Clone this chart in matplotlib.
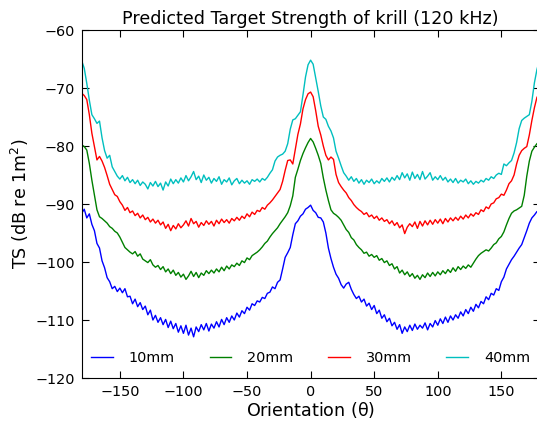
import numpy as np
import matplotlib
matplotlib.use('Agg')
import matplotlib.pyplot as plt

# orientation grid (deg), 2 deg steps from -180 to 180
theta = np.arange(-180, 181, 2)

ts_40mm = [
    -65.3, -66.6, -69.2, -72.1, -74.6, -75.3, -76.1, -75.7, -78.6, -80.8,
    -82.1, -81.6, -83.6, -84.4, -85.2, -85.7, -85.1, -86.0, -85.4, -86.3,
    -85.8, -86.5, -85.9, -86.8, -86.2, -86.6, -87.4, -86.3, -86.9, -86.1,
    -87.0, -86.4, -87.6, -86.2, -86.9, -85.7, -86.5, -85.8, -86.4, -85.5,
    -86.2, -85.1, -86.0, -85.3, -84.4, -85.8, -85.2, -86.3, -85.0, -85.9,
    -85.4, -86.4, -85.6, -86.1, -85.3, -86.6, -85.8, -86.2, -85.5, -86.7,
    -86.0, -85.6, -86.5, -85.9, -86.4, -86.0, -86.6, -85.8, -86.1, -85.7,
    -86.2, -85.6, -85.9, -85.4, -84.7, -84.1, -82.6, -81.9, -81.6, -81.4,
    -80.9, -79.6, -77.1, -75.5, -75.3, -74.7, -74.1, -71.2, -68.1, -66.0,
    -65.2, -65.9, -68.2, -70.6, -73.1, -75.0, -75.4, -76.6, -77.4, -78.6,
    -80.9, -82.1, -83.4, -84.6, -85.2, -85.9, -85.3, -86.1, -85.6, -86.4,
    -85.8, -86.6, -85.9, -86.3, -85.7, -86.5, -86.0, -86.4, -85.6, -86.1,
    -85.5, -86.2, -85.4, -85.9, -85.1, -85.8, -84.6, -85.5, -84.8, -85.9,
    -84.5, -85.6, -84.9, -85.8, -84.4, -85.7, -85.2, -84.6, -85.9, -85.3,
    -85.8, -85.1, -85.9, -85.4, -86.2, -85.7, -86.3, -85.6, -86.4, -85.9,
    -86.2, -85.7, -86.5, -86.0, -86.6, -86.1, -86.4, -85.9, -86.2, -85.6,
    -85.9, -85.3, -85.6, -85.0, -84.7, -84.9, -83.1, -83.4, -82.9, -82.5,
    -81.2, -79.4, -77.0, -75.6, -75.2, -74.9, -74.6, -72.3, -69.1, -66.8,
    -65.2,
]

ts_30mm = [
    -70.9, -71.3, -72.0, -74.6, -77.8, -80.1, -82.4, -81.8, -82.6, -83.7,
    -85.1, -86.6, -87.5, -88.4, -88.7, -89.6, -90.2, -91.1, -90.6, -91.5,
    -91.2, -92.0, -91.6, -92.4, -91.9, -92.7, -92.3, -93.1, -92.6, -93.3,
    -92.8, -93.6, -93.1, -94.2, -93.5, -94.6, -93.7, -94.3, -93.4, -94.1,
    -93.6, -92.9, -93.8, -92.5, -93.4, -93.0, -94.0, -93.2, -93.7, -92.9,
    -93.5, -93.0, -93.8, -92.8, -93.4, -92.6, -93.2, -92.7, -93.3, -92.5,
    -92.9, -92.3, -92.8, -92.1, -92.5, -91.7, -92.2, -91.4, -91.8, -91.1,
    -91.3, -90.6, -90.9, -90.2, -89.8, -89.3, -88.7, -88.1, -87.5, -86.1,
    -84.2, -82.5, -82.4, -83.1, -80.6, -78.0, -76.2, -73.6, -72.0, -71.0,
    -70.7, -71.5, -73.9, -76.6, -78.1, -80.0, -81.6, -82.4, -81.9, -82.3,
    -84.9, -86.3, -87.0, -87.6, -88.1, -88.9, -89.4, -90.1, -90.6, -91.0,
    -91.3, -91.8, -91.5, -92.2, -91.9, -92.5, -92.1, -92.8, -92.4, -93.0,
    -92.7, -93.4, -92.9, -93.7, -93.2, -94.1, -93.6, -95.1, -94.0, -93.4,
    -93.9, -93.1, -94.2, -93.0, -93.8, -92.9, -93.6, -92.8, -93.5, -92.7,
    -93.3, -92.6, -93.4, -92.5, -93.1, -92.4, -92.9, -92.3, -92.8, -92.1,
    -92.6, -91.9, -92.4, -91.7, -92.1, -91.5, -91.8, -91.0, -91.3, -90.5,
    -90.8, -90.0, -89.8, -89.1, -88.9, -88.3, -88.5, -87.6, -86.5, -86.0,
    -85.0, -83.1, -81.6, -80.8, -80.4, -80.1, -78.1, -75.6, -73.4, -71.6,
    -71.0,
]

ts_20mm = [
    -79.8, -80.1, -80.7, -83.0, -85.9, -88.4, -91.0, -92.2, -92.5, -92.9,
    -93.3, -93.9, -94.2, -94.7, -95.0, -95.7, -96.6, -97.5, -97.9, -98.3,
    -98.6, -98.2, -99.0, -98.6, -99.5, -99.8, -100.1, -99.6, -100.5, -100.9,
    -100.6, -101.3, -100.8, -101.7, -101.2, -102.0, -101.4, -102.3, -101.8, -102.6,
    -102.1, -103.0, -102.4, -101.6, -102.5, -101.8, -102.7, -101.9, -102.3, -101.5,
    -102.0, -101.4, -101.9, -101.2, -101.7, -100.9, -101.5, -100.7, -101.2, -100.5,
    -100.8, -100.2, -100.6, -99.8, -100.1, -99.3, -99.6, -98.9, -98.6, -98.3,
    -97.9, -97.4, -96.8, -96.4, -95.7, -95.1, -94.6, -94.1, -93.4, -92.8,
    -92.2, -91.5, -90.3, -88.6, -85.4, -84.0, -82.5, -81.3, -80.3, -79.4,
    -78.7, -79.3, -80.4, -81.6, -83.0, -85.5, -87.6, -89.4, -91.0, -91.6,
    -91.9, -92.3, -92.8, -93.6, -94.4, -94.9, -95.8, -96.2, -97.0, -97.5,
    -97.9, -98.5, -98.3, -99.0, -98.7, -99.2, -98.9, -99.7, -99.4, -100.1,
    -99.8, -100.6, -100.3, -101.2, -100.8, -101.9, -101.4, -102.2, -101.7, -102.5,
    -102.0, -102.8, -102.3, -103.0, -102.2, -102.7, -101.9, -102.5, -101.8, -102.4,
    -101.7, -102.2, -101.5, -102.0, -101.3, -101.8, -101.0, -101.6, -100.8, -101.3,
    -100.7, -101.1, -100.5, -100.9, -100.2, -99.5, -98.9, -98.5, -98.2, -97.9,
    -98.1, -97.6, -97.0, -96.7, -96.0, -95.6, -94.8, -93.6, -92.5, -91.6,
    -91.2, -91.0, -90.7, -90.4, -88.5, -85.2, -82.6, -80.9, -80.2, -79.6,
    -79.2,
]

ts_10mm = [
    -91.6, -90.9, -92.4, -91.7, -93.5, -94.6, -96.8, -97.6, -99.8, -101.0,
    -102.7, -103.4, -104.6, -104.2, -105.1, -104.5, -105.3, -104.6, -106.0, -105.9,
    -107.2, -106.4, -107.7, -107.0, -108.2, -107.6, -109.1, -108.3, -110.0, -109.2,
    -110.4, -109.6, -110.8, -109.9, -111.3, -110.2, -111.5, -110.6, -112.1, -111.0,
    -112.3, -110.9, -112.6, -111.4, -112.9, -111.2, -112.0, -110.8, -111.7, -110.6,
    -111.9, -110.7, -111.4, -110.3, -111.2, -109.9, -110.8, -109.6, -110.4, -109.3,
    -110.0, -108.8, -109.5, -108.4, -108.9, -107.8, -108.3, -107.2, -107.5, -106.7,
    -106.9, -106.1, -106.3, -105.4, -105.2, -104.3, -104.6, -103.5, -103.1, -101.2,
    -99.2, -98.4, -97.5, -95.3, -93.4, -92.9, -92.1, -91.7, -90.9, -90.6,
    -90.2, -91.1, -91.5, -92.3, -92.4, -93.1, -95.0, -97.6, -99.4, -100.9,
    -102.1, -102.8, -103.9, -104.5, -103.8, -103.5, -104.7, -105.6, -106.3, -105.9,
    -106.9, -106.4, -107.6, -107.1, -108.2, -107.5, -108.9, -108.3, -109.7, -109.1,
    -110.3, -109.7, -111.0, -110.4, -111.6, -110.8, -112.3, -111.2, -112.0, -110.9,
    -111.8, -110.7, -111.6, -110.9, -111.4, -110.5, -111.7, -110.6, -111.2, -110.1,
    -110.9, -109.8, -110.6, -109.5, -110.4, -109.3, -110.0, -109.1, -109.7, -108.6,
    -109.3, -108.2, -108.9, -107.8, -108.5, -107.3, -107.9, -106.8, -107.2, -106.0,
    -106.5, -105.4, -105.7, -104.6, -104.9, -103.4, -102.6, -101.2, -100.4, -99.6,
    -99.0, -98.3, -97.6, -97.0, -95.8, -94.6, -93.3, -92.4, -91.9, -91.3,
    -91.5,
]

series = [('10mm', ts_10mm, 'b'), ('20mm', ts_20mm, 'g'),
          ('30mm', ts_30mm, 'r'), ('40mm', ts_40mm, 'c')]

colors = {'b': (0, 0, 1), 'g': (0, 0.5, 0), 'r': (1, 0, 0), 'c': (0, 0.75, 0.75)}

fig = plt.figure(figsize=(5.37, 4.21), dpi=100)
ax = fig.add_axes([81.7 / 537, 43 / 421, (539.5 - 81.7) / 537, 348 / 421])

for name, vals, c in series:
    ax.plot(theta, vals, color=colors[c], lw=1.0, label=name)

ax.set_xlim(-180, 180)
ax.set_ylim(-120, -60)
ax.set_xticks([-150, -100, -50, 0, 50, 100, 150])
ax.set_yticks(np.arange(-120, -59, 10))
ax.tick_params(direction='in', top=True, right=True, labelsize=10.4, length=5, pad=5)

ax.set_title('Predicted Target Strength of krill (120 kHz)', fontsize=12.6, pad=4)
ax.set_xlabel(r'Orientation ($\mathrm{\theta}$)', fontsize=12.6, labelpad=1)
ax.set_ylabel(r'TS (dB re 1m$^2$)', fontsize=12.6, labelpad=3)

ax.legend(loc='lower center', ncol=4, frameon=False, fontsize=10.4,
          handlelength=1.5, handletextpad=1.1, columnspacing=2.4)

fig.savefig('out.png', dpi=100)
